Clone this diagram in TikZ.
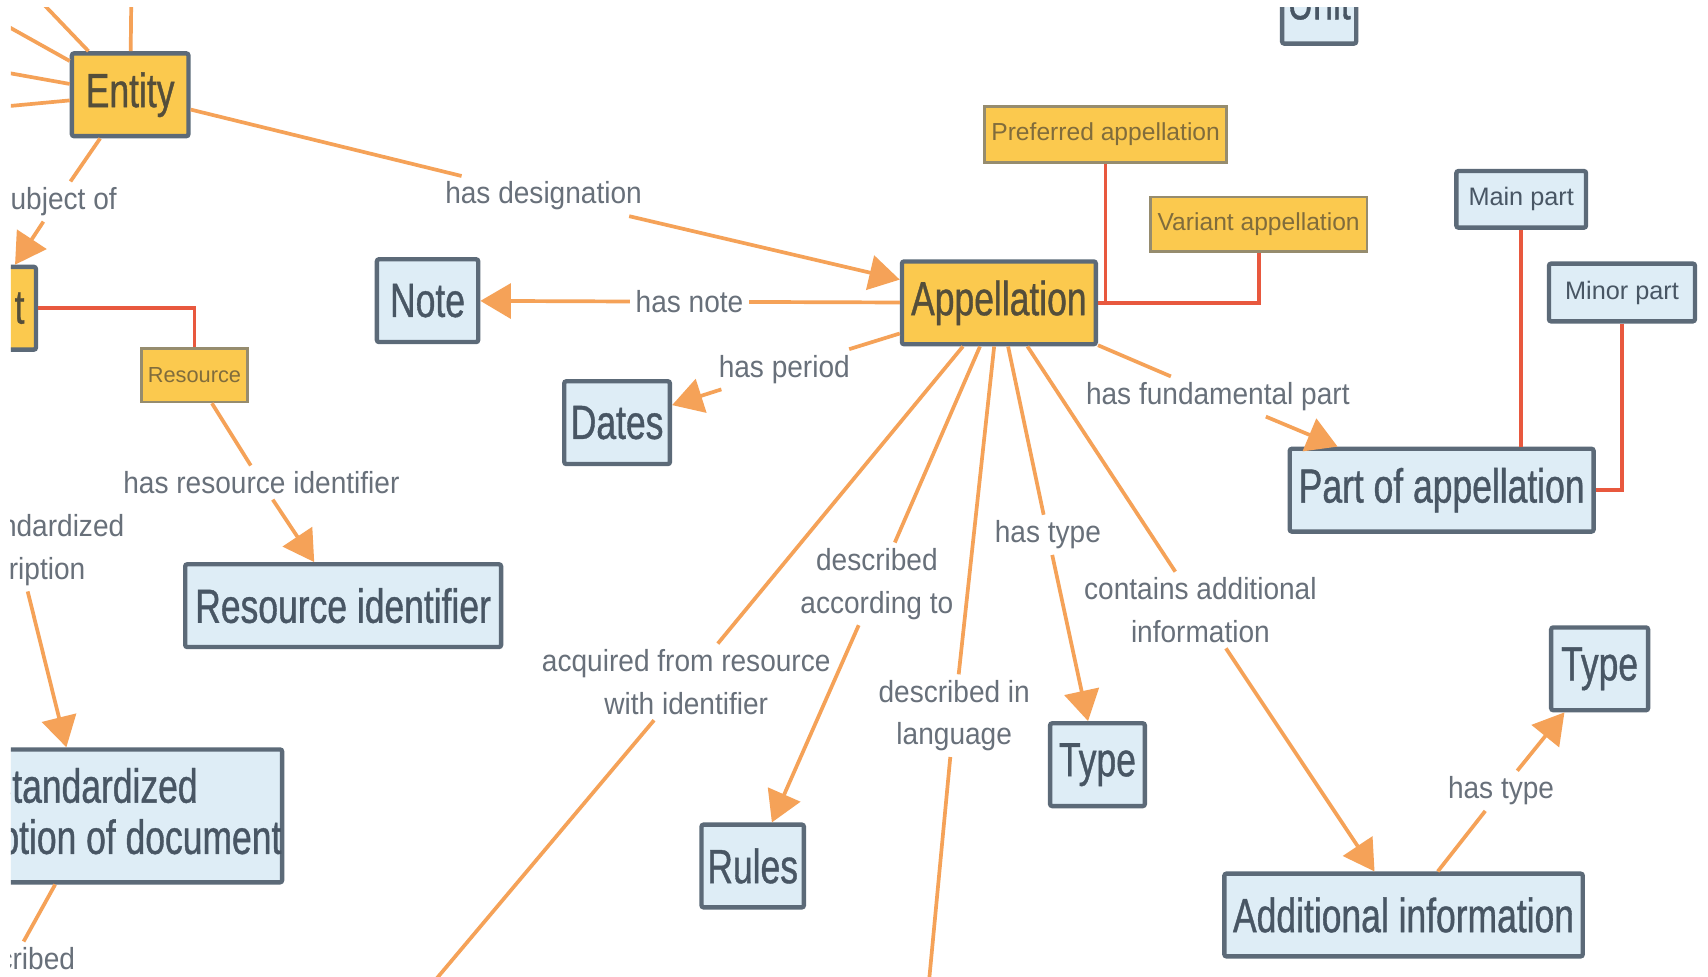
\documentclass[tikz,border=0pt]{standalone}
\usepackage{fontspec}
\setmainfont{Liberation Sans}
\newfontfamily\bigf[FakeStretch=0.74,FakeBold=0.8]{Liberation Sans}
\newfontfamily\lblf[FakeStretch=0.92]{Liberation Sans}
\newfontfamily\smf{Liberation Sans}
\usetikzlibrary{arrows.meta,calc}

\definecolor{cyellow}{RGB}{251,201,78}
\definecolor{cblue}{RGB}{222,237,246}
\definecolor{cborder}{RGB}{92,106,120}
\definecolor{corange}{RGB}{245,162,88}
\definecolor{cred}{RGB}{232,88,62}
\definecolor{ctextb}{RGB}{72,86,100}
\definecolor{ctexty}{RGB}{84,78,58}
\definecolor{clabel}{RGB}{104,112,122}
\definecolor{csmallb}{RGB}{150,140,110}
\definecolor{csmallt}{RGB}{128,108,60}

\tikzset{
 concept/.style={draw=cborder, line width=2pt, rounded corners=1pt, minimum height=38pt, inner sep=0pt, font=\bigf\fontsize{22}{23.5}\selectfont},
 yconcept/.style={concept, fill=cyellow, text=ctexty},
 bconcept/.style={concept, fill=cblue, text=ctextb},
 ysmall/.style={draw=csmallb, line width=1.2pt, fill=cyellow, text=csmallt, inner sep=0pt, font=\smf\fontsize{11.3}{13}\selectfont},
 bsmall/.style={draw=cborder, line width=2pt, rounded corners=1pt, fill=cblue, text=ctextb, inner sep=0pt, font=\smf\fontsize{11.6}{13}\selectfont},
 lbl/.style={text=clabel, inner sep=2.5pt, align=center, font=\lblf\fontsize{14}{19.5}\selectfont},
 oline/.style={draw=corange, line width=1.7pt},
 oarrow/.style={oline, -{Triangle[length=14pt,width=16pt]}},
 rline/.style={draw=cred, line width=1.7pt},
}

\begin{document}
\begin{tikzpicture}[x=0.5pt,y=-0.5pt]
\useasboundingbox (0,0) rectangle (1568,896);
\fill[white] (0,0) rectangle (1568,896);
\begin{scope}
\clip (10,7) rectangle (1568,896);

% concept nodes
\node[yconcept, minimum width=53.5pt] (entity) at (119.5,87) {Entity};
\node[yconcept, minimum width=45.5pt, text width=35pt, align=right] (doc) at (-12.5,283) {t};
\node[ysmall, minimum width=48.5pt, minimum height=24.5pt, font=\smf\fontsize{10}{11}\selectfont] (resource) at (178.5,344.5) {Resource};
\node[bconcept, minimum width=46.5pt] (note) at (392.5,276) {Note};
\node[yconcept, minimum width=89pt] (appel) at (917,278) {Appellation};
\node[bconcept, minimum width=48.5pt] (dates) at (566.5,388) {Dates};
\node[ysmall, minimum width=111pt, minimum height=25.5pt] (pref) at (1015,123.5) {Preferred appellation};
\node[ysmall, minimum width=99.5pt, minimum height=25pt] (variant) at (1155.5,206) {Variant appellation};
\node[bsmall, minimum width=59.5pt, minimum height=26pt] (mainp) at (1396.5,183) {Main part};
\node[bsmall, minimum width=67pt, minimum height=26.5pt] (minorp) at (1489,268.5) {Minor part};
\node[bconcept, minimum width=139.5pt] (part) at (1323.5,450) {Part of appellation};
\node[bconcept, minimum width=145pt] (resid) at (315,556) {Resource identifier};
\node[bconcept, minimum width=173.5pt, minimum height=61pt, align=center] (stddoc) at (85.5,749) {Standardized\\description of document};
\node[bconcept, minimum width=47pt] (rules) at (691,795) {Rules};
\node[bconcept, minimum width=43.5pt] (type1) at (1007.5,702) {Type};
\node[bconcept, minimum width=44.5pt] (type2) at (1468.5,614) {Type};
\node[bconcept, minimum width=164.5pt] (addinfo) at (1288.5,840) {Additional information};
\node[bconcept, minimum width=34pt] (unit) at (1211,2) {Unit};

% linking phrases
\node[lbl] (l-desig) at (499,180) {has designation};
\node[lbl] (l-note) at (633,277) {has note};
\node[lbl] (l-period) at (720,339) {has period};
\node[lbl] (l-fund) at (1118,364) {has fundamental part};
\node[lbl] (l-resid) at (240,443) {has resource identifier};
\node[lbl] (l-subj) at (52,185) {subject of};
\node[lbl] (l-std) at (16,505) {has standardized\\description};
\node[lbl] (l-descr) at (13,880) {described};
\node[lbl] (l-rules) at (805,536) {described\\according to};
\node[lbl] (l-acq) at (630,626) {acquired from resource\\with identifier};
\node[lbl] (l-type1) at (962,491) {has type};
\node[lbl] (l-lang) at (876,657) {described in\\language};
\node[lbl] (l-add) at (1102,560) {contains additional\\information};
\node[lbl] (l-type2) at (1378,726) {has type};

% off-canvas ends
\coordinate (e1) at (20,-17);
\coordinate (e2) at (121,-40);
\coordinate (e3) at (-20,9);
\coordinate (e4) at (-20,62);
\coordinate (e5) at (-20,100);
\coordinate (acqend) at (391,910);
\coordinate (langend) at (852,910);

% orange connectors
\draw[oline] (entity) -- (e1);
\draw[oline] (entity) -- (e2);
\draw[oline] (entity) -- (e3);
\draw[oline] (entity) -- (e4);
\draw[oline] (entity) -- (e5);
\draw[oline] (entity) -- (l-desig);
\draw[oarrow] (l-desig) -- (appel);
\draw[oline] (appel) -- (l-note);
\draw[oarrow] (l-note) -- (note);
\draw[oline] (appel) -- (l-period);
\draw[oarrow] (l-period) -- (dates);
\draw[oline] (appel) -- (l-fund);
\draw[oarrow] (l-fund) -- (part);
\draw[oline] (appel) -- (l-acq);
\draw[oline] (l-acq) -- (acqend);
\draw[oline] (appel) -- (l-rules);
\draw[oarrow] (l-rules) -- (rules);
\draw[oline] (appel) -- (l-lang);
\draw[oline] (l-lang) -- (langend);
\draw[oline] (appel) -- (l-type1);
\draw[oarrow] (l-type1) -- (type1);
\draw[oline] (appel) -- (l-add);
\draw[oarrow] (l-add) -- (addinfo);
\draw[oline] (addinfo) -- (l-type2);
\draw[oarrow] (l-type2) -- (type2);
\draw[oline] (resource) -- (l-resid);
\draw[oarrow] (l-resid) -- (resid);
\draw[oline] (entity) -- (l-subj);
\draw[oarrow] (l-subj) -- (doc);
\draw[oarrow] (l-std) -- ($(stddoc.north west)!0.43!(stddoc.north east)$);
\draw[oline] (stddoc) -- (l-descr);

% red connectors
\draw[rline] (doc.east) -| (resource.north);
\draw[rline] (pref.south) |- (appel.east);
\draw[rline] (appel.east) -| (variant.south);
\draw[rline] (mainp.south) -- (mainp.south |- part.north);
\draw[rline] (minorp.south) |- (part.east);
\end{scope}
\end{tikzpicture}
\end{document}
